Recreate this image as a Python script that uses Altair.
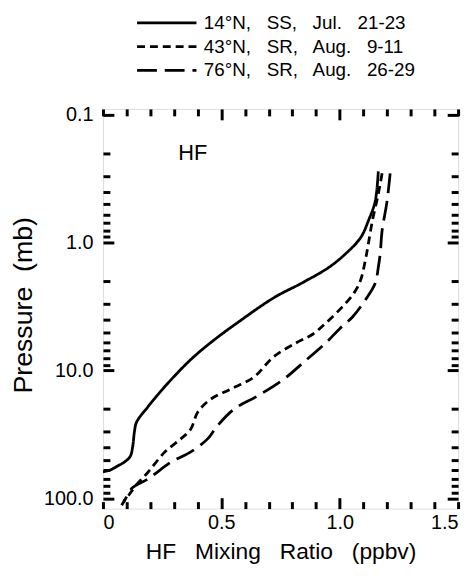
import altair as alt
import pandas as pd

S = "\u00a0\u00a0 "
series_names = [f"14°N,{S}SS,{S}Jul.{S}21-23", f"43°N,{S}SR,{S}Aug.{S}9-11", f"76°N,{S}SR,{S}Aug.{S}26-29"]

hf_14n = [1.163, 1.15, 1.121, 1.088, 1.025, 0.954, 0.846, 0.721, 0.567, 0.47, 0.371,
          0.262, 0.192, 0.142, 0.133, 0.125, 0.115, 0.09, 0.06, 0.03, 0.0]
p_14n = [0.277, 0.473, 0.675, 0.915, 1.22, 1.56, 2.04, 2.7, 4.24, 5.75, 8.2,
         13.3, 19.0, 25.3, 30.0, 40.0, 47.0, 52.0, 56.0, 60.0, 62.0]

hf_43n = [1.179, 1.163, 1.138, 1.121, 1.108, 1.088, 1.06, 1.01, 0.942, 0.886, 0.817, 0.721, 0.636,
          0.538, 0.454, 0.4, 0.371, 0.329, 0.262, 0.192, 0.138, 0.108, 0.088]
p_43n = [0.287, 0.417, 0.675, 1.02, 1.38, 1.97, 2.48, 3.19, 4.24, 5.2, 6.06, 7.8, 11.3,
         14.0, 16.8, 21.2, 28.6, 34.2, 43.2, 61.8, 79.4, 94.8, 105.0]

hf_76n = [1.213, 1.2, 1.179, 1.171, 1.163, 1.15, 1.108, 1.054, 1.0, 0.942, 0.846, 0.763, 0.65,
          0.554, 0.483, 0.442, 0.371, 0.288, 0.192, 0.121, 0.096, 0.079]
p_76n = [0.287, 0.473, 0.807, 1.22, 1.56, 2.08, 2.81, 3.81, 4.7, 6.06, 8.66, 11.7, 15.9,
         20.0, 27.1, 34.2, 43.2, 51.9, 70.0, 83.7, 100.0, 113.0]

x_label_vals = [0, 0.5, 1.0, 1.5]
x_tick_vals = [round(i * 0.1, 1) for i in range(16)]
y_label_vals = [0.1, 1, 10, 100]
y_tick_vals = [round(m * d, 2) for d in (0.1, 1, 10) for m in range(1, 10)] + [100]

rows = []
for name, xs, ps in zip(series_names, [hf_14n, hf_43n, hf_76n], [p_14n, p_43n, p_76n]):
    for i, (xv, pv) in enumerate(zip(xs, ps)):
        rows.append({"series": name, "hf": xv, "p": pv, "idx": i})
df = pd.DataFrame(rows)

annot = pd.DataFrame({"hf": [0.379], "p": [0.2], "label": ["HF"]})

W, H = 359, 404
FONT = "Liberation Sans"

xscale = alt.Scale(domain=[0, 1.5], nice=False, zero=False)
yscale = alt.Scale(type="log", domain=[0.09, 120], reverse=True, nice=False)

base = alt.Chart(df)

lines = base.mark_line(color="black", strokeWidth=2.8, clip=True, interpolate="catmull-rom").encode(
    x=alt.X("hf:Q", scale=xscale,
            axis=alt.Axis(orient="bottom", values=x_label_vals,
                          labelExpr="datum.value == 0 ? '0' : format(datum.value, '.1f')",
                          ticks=False, domain=False, grid=False,
                          labelFontSize=20, labelPadding=4, labelColor="black", labelFont=FONT,
                          title=f"HF{S}Mixing{S}Ratio{S}(ppbv)", titleFontSize=23, titleFont=FONT,
                          titleFontWeight="normal", titleColor="black", titlePadding=8)),
    y=alt.Y("p:Q", scale=yscale,
            axis=alt.Axis(orient="left", values=y_label_vals, format=".1f",
                          ticks=False, domain=False, grid=False,
                          labelFontSize=20, labelPadding=10, labelColor="black", labelFont=FONT,
                          title="Pressure\u00a0 (mb)", titleFontSize=27, titleFont=FONT,
                          titleFontWeight="normal", titleColor="black", titlePadding=6,
                          titleY=198)),
    strokeDash=alt.StrokeDash("series:N",
                              scale=alt.Scale(domain=series_names, range=[[1, 0], [8, 5], [20, 8]]),
                              legend=alt.Legend(orient="none", legendX=33, legendY=-101, title=None,
                                                symbolType="M-1,0H3.8", symbolSize=625,
                                                symbolStrokeWidth=2.8, symbolStrokeColor="black",
                                                labelFontSize=19, labelFont=FONT, labelColor="black",
                                                labelOffset=41, rowPadding=0, labelLimit=400)),
    order="idx:Q",
)

major_x = "datum.value == 0.5 || datum.value == 1"
major_y = "datum.value == 0.1 || datum.value == 1 || datum.value == 10 || datum.value == 100"


def tick_axis(orient, offset, vals, test, big=11, small=7):
    return alt.Axis(orient=orient, offset=offset, values=vals, labels=False, title=None,
                    domain=False, grid=False, ticks=True, tickColor="black", tickWidth=3,
                    tickSize={"condition": {"test": test, "value": big}, "value": small})


ticks_a = base.mark_point(opacity=0).encode(
    x=alt.X("hf:Q", scale=xscale, axis=tick_axis("top", -H, x_tick_vals, major_x)),
    y=alt.Y("p:Q", scale=yscale, axis=tick_axis("right", -W, y_tick_vals, major_y)),
)
ticks_b = base.mark_point(opacity=0).encode(
    x=alt.X("hf:Q", scale=xscale, axis=tick_axis("bottom", -H, x_tick_vals, major_x)),
    y=alt.Y("p:Q", scale=yscale, axis=tick_axis("left", -W, y_tick_vals, major_y)),
)

label = alt.Chart(annot).mark_text(fontSize=22, font=FONT, color="black").encode(
    x=alt.X("hf:Q", scale=xscale, axis=None),
    y=alt.Y("p:Q", scale=yscale, axis=None),
    text="label:N",
)

chart = alt.layer(lines, label, ticks_a, ticks_b).resolve_axis(
    x="independent", y="independent"
).properties(
    width=W, height=H,
    autosize=alt.AutoSizeParams(type="none"),
    padding={"left": 96, "top": 99, "right": 8, "bottom": 55},
).configure_view(stroke="black", strokeWidth=3).configure(background="white")

chart.save("out.html", embed_options={"renderer": "svg", "actions": False})
